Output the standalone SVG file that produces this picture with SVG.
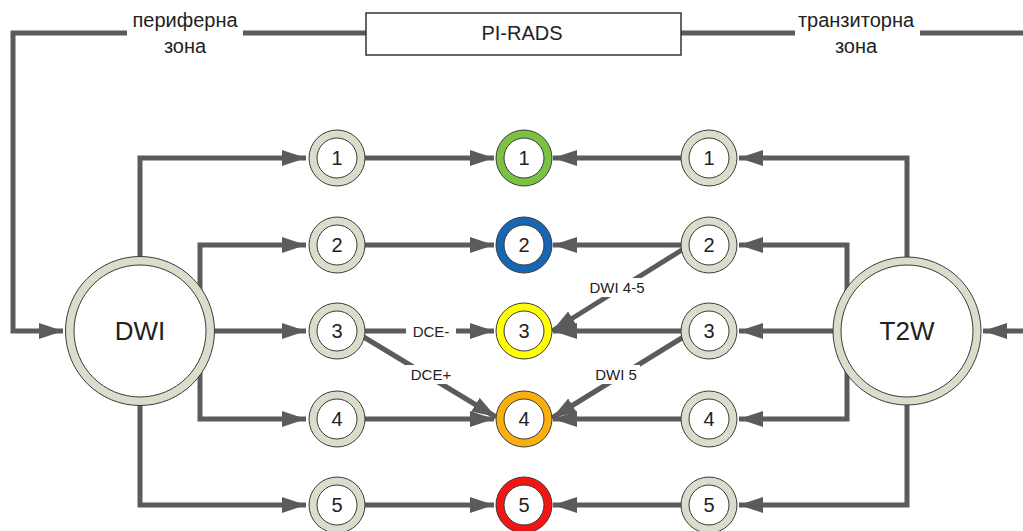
<svg xmlns="http://www.w3.org/2000/svg" width="1023" height="531" viewBox="0 0 1023 531">
<style>
.ln{fill:none;stroke:#5b5b5b;stroke-width:5}
.ar{marker-end:url(#ah)}
.ring{fill:#dcdccd;stroke:#3a3a3a;stroke-width:1}
.inner{fill:#fff;stroke:#3a3a3a;stroke-width:1}
.t{font-family:"Liberation Sans",Arial,sans-serif;fill:#222;text-anchor:middle}
.n{font-size:20px}
.big{font-size:26px}
.lab{font-size:15px}
.top{font-size:20px}
.bg{fill:#fff}
</style>
<defs>
<marker id="ah" markerUnits="userSpaceOnUse" markerWidth="26" markerHeight="18" refX="24" refY="8" orient="auto">
<path d="M0,0 L24,8 L0,16 z" fill="#5b5b5b"/>
</marker>
</defs>
<g id="connectors">
<polyline class="ln" points="127,33 13,33 13,331 63,331" style="marker-end:url(#ah)"/>
<line class="ln" x1="243" y1="33" x2="366" y2="33"/>
<line class="ln" x1="681" y1="33" x2="795" y2="33"/>
<line class="ln" x1="920" y1="33" x2="1023" y2="33"/>
<line class="ln ar" x1="1023" y1="331" x2="983" y2="331"/>
<polyline class="ln ar" points="140,260 140,158 306,158"/>
<polyline class="ln ar" points="200,300 200,245 306,245"/>
<line class="ln ar" x1="214" y1="331" x2="306" y2="331"/>
<polyline class="ln ar" points="200,360 200,419 306,419"/>
<polyline class="ln ar" points="140,400 140,505 306,505"/>
<polyline class="ln ar" points="907,260 907,158 739,158"/>
<polyline class="ln ar" points="847,300 847,245 739,245"/>
<line class="ln ar" x1="833" y1="331" x2="739" y2="331"/>
<polyline class="ln ar" points="847,360 847,419 739,419"/>
<polyline class="ln ar" points="907,400 907,505 739,505"/>
<line class="ln ar" x1="365" y1="158" x2="494" y2="158"/>
<line class="ln ar" x1="365" y1="245" x2="494" y2="245"/>
<line class="ln ar" x1="365" y1="331" x2="494" y2="331"/>
<line class="ln ar" x1="365" y1="419" x2="494" y2="419"/>
<line class="ln ar" x1="365" y1="505" x2="494" y2="505"/>
<line class="ln ar" x1="362" y1="336" x2="496" y2="417"/>
<line class="ln ar" x1="681" y1="158" x2="553" y2="158"/>
<line class="ln ar" x1="681" y1="245" x2="553" y2="245"/>
<line class="ln ar" x1="681" y1="331" x2="553" y2="331"/>
<line class="ln ar" x1="681" y1="419" x2="553" y2="419"/>
<line class="ln ar" x1="681" y1="505" x2="553" y2="505"/>
<line class="ln ar" x1="685" y1="248" x2="552" y2="331"/>
<line class="ln ar" x1="685" y1="336" x2="552" y2="418"/>
<rect class="bg" x="406" y="321" width="50" height="19"/>
<text class="t lab" x="431" y="337">DCE-</text>
<rect class="bg" x="406" y="365" width="50" height="19"/>
<text class="t lab" x="431" y="380">DCE+</text>
<rect class="bg" x="587" y="278" width="60" height="19"/>
<text class="t lab" x="617" y="293">DWI 4-5</text>
<rect class="bg" x="592" y="365" width="48" height="19"/>
<text class="t lab" x="616" y="380">DWI 5</text>
</g>
<g id="pz-label">
<text class="t top" x="185" y="27">периферна</text>
<text class="t top" x="185" y="53">зона</text>
</g>
<g id="tz-label">
<text class="t top" x="856" y="27">транзиторна</text>
<text class="t top" x="856" y="53">зона</text>
</g>
<g id="pirads">
<rect x="366" y="13" width="315" height="42" fill="#fff" stroke="#333" stroke-width="1.5"/>
<text class="t top" x="522" y="40">PI-RADS</text>
</g>
<g id="dwi">
<circle class="ring" cx="140" cy="331" r="74.5"/>
<circle class="inner" cx="140" cy="331" r="66"/>
<text class="t big" x="140" y="340">DWI</text>
</g>
<g id="t2w">
<circle class="ring" cx="907" cy="331" r="74"/>
<circle class="inner" cx="907" cy="331" r="66"/>
<text class="t big" x="907" y="340">T2W</text>
</g>
<g id="pz1"><circle class="ring" cx="337" cy="158" r="28"/><circle class="inner" cx="337" cy="158" r="20"/><text class="t n" x="337" y="165">1</text></g>
<g id="pz2"><circle class="ring" cx="337" cy="245" r="28"/><circle class="inner" cx="337" cy="245" r="20"/><text class="t n" x="337" y="252">2</text></g>
<g id="pz3"><circle class="ring" cx="337" cy="331" r="28"/><circle class="inner" cx="337" cy="331" r="20"/><text class="t n" x="337" y="338">3</text></g>
<g id="pz4"><circle class="ring" cx="337" cy="419" r="28"/><circle class="inner" cx="337" cy="419" r="20"/><text class="t n" x="337" y="426">4</text></g>
<g id="pz5"><circle class="ring" cx="337" cy="505" r="28"/><circle class="inner" cx="337" cy="505" r="20"/><text class="t n" x="337" y="512">5</text></g>
<g id="tz1"><circle class="ring" cx="709" cy="158" r="28"/><circle class="inner" cx="709" cy="158" r="20"/><text class="t n" x="709" y="165">1</text></g>
<g id="tz2"><circle class="ring" cx="709" cy="245" r="28"/><circle class="inner" cx="709" cy="245" r="20"/><text class="t n" x="709" y="252">2</text></g>
<g id="tz3"><circle class="ring" cx="709" cy="331" r="28"/><circle class="inner" cx="709" cy="331" r="20"/><text class="t n" x="709" y="338">3</text></g>
<g id="tz4"><circle class="ring" cx="709" cy="419" r="28"/><circle class="inner" cx="709" cy="419" r="20"/><text class="t n" x="709" y="426">4</text></g>
<g id="tz5"><circle class="ring" cx="709" cy="505" r="28"/><circle class="inner" cx="709" cy="505" r="20"/><text class="t n" x="709" y="512">5</text></g>
<g id="pr1"><circle cx="524" cy="158" r="28" fill="#7cc242" stroke="#3a3a3a"/><circle class="inner" cx="524" cy="158" r="20"/><text class="t n" x="524" y="165">1</text></g>
<g id="pr2"><circle cx="524" cy="245" r="28" fill="#1766b3" stroke="#3a3a3a"/><circle class="inner" cx="524" cy="245" r="20"/><text class="t n" x="524" y="252">2</text></g>
<g id="pr3"><circle cx="524" cy="331" r="28" fill="#ffff00" stroke="#3a3a3a"/><circle class="inner" cx="524" cy="331" r="20"/><text class="t n" x="524" y="338">3</text></g>
<g id="pr4"><circle cx="524" cy="419" r="28" fill="#f8b10c" stroke="#3a3a3a"/><circle class="inner" cx="524" cy="419" r="20"/><text class="t n" x="524" y="426">4</text></g>
<g id="pr5"><circle cx="524" cy="505" r="28" fill="#f41414" stroke="#3a3a3a"/><circle class="inner" cx="524" cy="505" r="20"/><text class="t n" x="524" y="512">5</text></g>
</svg>
